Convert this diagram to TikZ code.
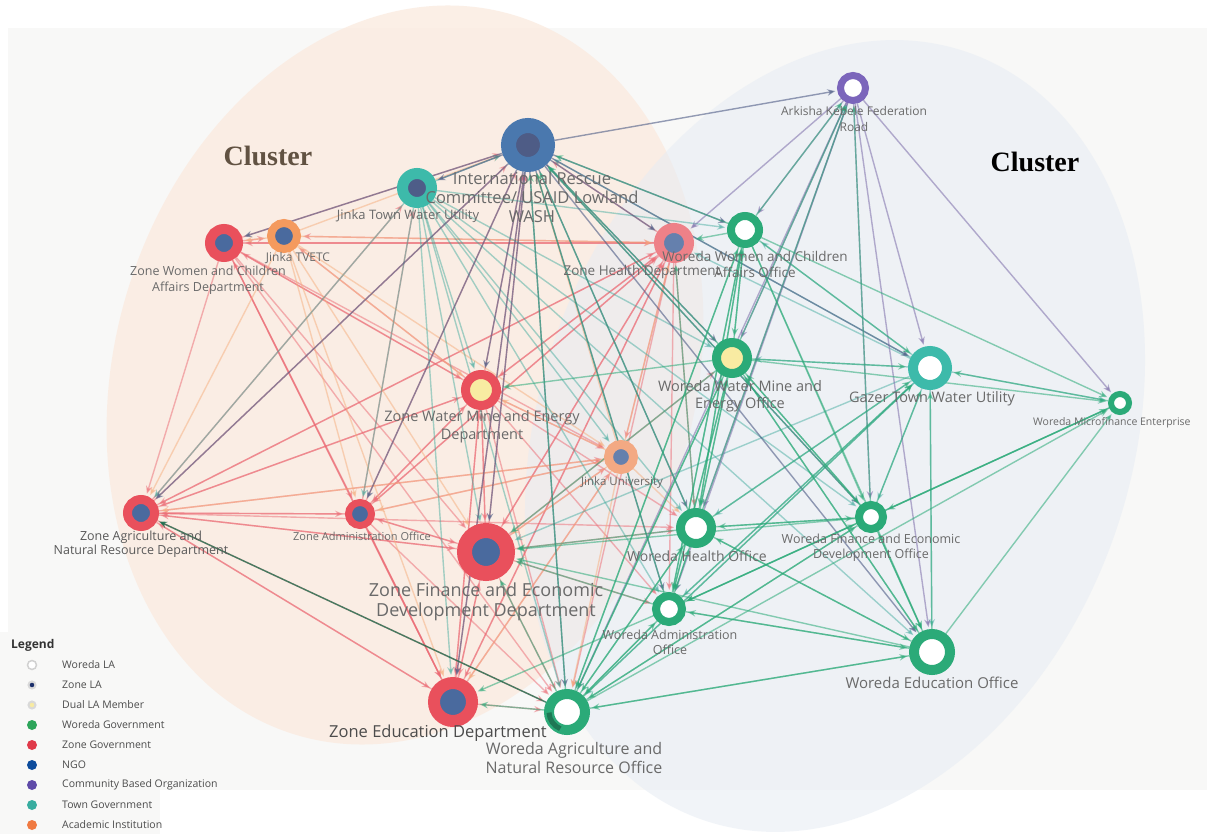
\documentclass[tikz,border=0pt]{standalone}
\usepackage{fontspec}
\setmainfont{Open Sans}
\newfontfamily\clusterfont{Liberation Serif}
\usetikzlibrary{arrows.meta,calc}
\pgfdeclarelayer{shade}
\pgfdeclarelayer{links}
\pgfsetlayers{shade,links,main}

% palette
\definecolor{zgov}{HTML}{E9505C}
\definecolor{zgovfade}{HTML}{EE8188}
\definecolor{wgov}{HTML}{2BAA78}
\definecolor{town}{HTML}{3DBAAA}
\definecolor{ngo}{HTML}{4A78AE}
\definecolor{ngoin}{HTML}{4E5C86}
\definecolor{cbo}{HTML}{7B65BB}
\definecolor{acad}{HTML}{F49A5E}
\definecolor{acadfade}{HTML}{F3A983}
\definecolor{zla}{HTML}{4A6A9E}
\definecolor{dual}{HTML}{F8EBA2}
\definecolor{paper}{HTML}{F8F8F7}
\definecolor{peach}{HTML}{FBEBE0}
\definecolor{mist}{HTML}{E6ECF4}
\definecolor{labelgray}{HTML}{6A6A6A}
\definecolor{legwgov}{HTML}{2DA55A}
\definecolor{legzgov}{HTML}{E03A4A}
\definecolor{legngo}{HTML}{0D4C9C}
\definecolor{legcbo}{HTML}{5F4BA8}
\definecolor{legtown}{HTML}{38ADA0}
\definecolor{legacad}{HTML}{F07A42}
\definecolor{legnavy}{HTML}{1A2E6A}

\tikzset{
  vtx/.style={circle, inner sep=0pt},
  lbl/.style={text=labelgray, align=center, inner sep=0pt},
  lnk/.style={line width=1.4pt, shorten >=2pt, -{Stealth[length=8pt,width=6.5pt]}},
  zline/.style={lnk, draw=zgov!85!white, draw opacity=0.5, fill opacity=0.5},
  wline/.style={lnk, draw=wgov, draw opacity=0.55, fill opacity=0.55},
  tline/.style={lnk, draw=town!90!black, draw opacity=0.45, fill opacity=0.45},
  nline/.style={lnk, draw=ngoin, draw opacity=0.6, fill opacity=0.6},
  pline/.style={lnk, draw=cbo!70!gray, draw opacity=0.55, fill opacity=0.55},
  aline/.style={lnk, draw=acad!80!white, draw opacity=0.5, fill opacity=0.5},
  legdot/.style={circle, inner sep=0pt, minimum size=10pt},
  legtxt/.style={anchor=west, inner sep=0pt, text=black!70, font=\fontsize{10.5}{12}\selectfont},
}

\begin{document}
\begin{tikzpicture}[x=1pt,y=-1pt]
\useasboundingbox (0,0) rectangle (1207,834);

% backdrop and the two cluster regions
\begin{pgfonlayer}{shade}
  \fill[white] (0,0) rectangle (1207,834);
  \fill[paper] (8,28) rectangle (1207,790);
  \fill[paper] (0,632) rectangle (160,834);
  \fill[peach, fill opacity=0.8, rotate around={-17:(405,375)}]
    (405,375) ellipse [x radius=290, y radius=376];
  \fill[mist, fill opacity=0.55, rotate around={-19:(835,436)}]
    (835,436) ellipse [x radius=296.5, y radius=406];
\end{pgfonlayer}

% organisations
\node[vtx, minimum size=25pt, line width=7pt, draw=cbo, fill=white] (ark) at (853,88) {};
\node[vtx, minimum size=39pt, line width=15pt, draw=ngo, fill=ngoin] (irc) at (528,145) {};
\node[vtx, minimum size=29pt, line width=11pt, draw=town, fill=ngoin!90!zla] (jtw) at (417,188) {};
\node[vtx, minimum size=28pt, line width=10pt, draw=zgov, fill=zla] (zwc) at (224,243) {};
\node[vtx, minimum size=26pt, line width=8pt, draw=acad, fill=zla] (tvet) at (284,236) {};
\node[vtx, minimum size=30pt, line width=10pt, draw=zgovfade, fill=zla!85!white] (zhd) at (674,243) {};
\node[vtx, minimum size=28pt, line width=8pt, draw=wgov, fill=white] (wwc) at (745,230) {};
\node[vtx, minimum size=31pt, line width=9pt, draw=wgov, fill=dual] (wwm) at (732,358) {};
\node[vtx, minimum size=34pt, line width=10pt, draw=town, fill=white] (gtw) at (930,368) {};
\node[vtx, minimum size=18pt, line width=6pt, draw=wgov, fill=white] (wmf) at (1120,403) {};
\node[vtx, minimum size=31pt, line width=9pt, draw=zgov, fill=dual] (zwm) at (481,390) {};
\node[vtx, minimum size=25pt, line width=9pt, draw=acadfade, fill=zla!85!white] (ju) at (621,457) {};
\node[vtx, minimum size=27pt, line width=9pt, draw=zgov, fill=zla] (zag) at (141,513) {};
\node[vtx, minimum size=23pt, line width=7pt, draw=zgov, fill=zla] (zad) at (360,514) {};
\node[vtx, minimum size=43pt, line width=15pt, draw=zgov, fill=zla] (zfe) at (486,552) {};
\node[vtx, minimum size=31pt, line width=9pt, draw=wgov, fill=white] (who) at (696,528) {};
\node[vtx, minimum size=24pt, line width=8pt, draw=wgov, fill=white] (wfe) at (871,517) {};
\node[vtx, minimum size=26pt, line width=8pt, draw=wgov, fill=white] (wad) at (669,609) {};
\node[vtx, minimum size=36pt, line width=10pt, draw=wgov, fill=white] (wed) at (932,652) {};
\node[vtx, minimum size=38pt, line width=12pt, draw=zgov, fill=zla] (zed) at (453,702) {};
\node[vtx, minimum size=36pt, line width=10pt, draw=wgov, fill=white] (wag) at (567,712) {};
\draw[line width=5pt, draw=wgov!70!black] ($(wag.center)+(112:18)$) coordinate (wagarc) arc[start angle=112, end angle=178, radius=18];

% ties between organisations
\begin{pgfonlayer}{links}
% zone government
\foreach \s/\t in {zwc/zad, zwc/zfe, zwc/zed, zwc/zwm, zwc/zag, zwc/zhd, zwc/wag, zwc/irc, zwc/ju, zwc/tvet,
  zhd/zag, zhd/zad, zhd/zwm, zhd/zfe, zhd/zed, zhd/irc, zhd/zwc, zhd/wag, zhd/ju, zhd/tvet, zhd/who, zhd/wad,
  zwm/zag, zwm/zad, zwm/zfe, zwm/zed, zwm/ju, zwm/zhd, zwm/wag, zwm/zwc, zwm/irc, zwm/who, zwm/wad, zwm/tvet,
  zag/zad, zag/zwm, zag/zhd, zag/zfe, zag/zed, zag/irc, zag/ju, zag/jtw, zag/who, zag/wag,
  zad/zag, zad/zfe, zad/zed, zad/zwm, zad/zhd, zad/irc, zad/jtw, zad/ju, zad/wag,
  zfe/zag, zfe/zad, zfe/zed, zfe/zwm, zfe/wag, zfe/who, zfe/zhd, zfe/irc, zfe/wad, zfe/ju, zfe/wwm,
  zed/zag, zed/zfe, zed/zwm, zed/zad, zed/wag, zed/zhd, zed/zwc, zed/irc, zed/ju}
  \draw[zline] (\s) -- (\t);
% academic institutions
\foreach \s/\t in {tvet/zwc, tvet/zhd, tvet/zwm, tvet/zed, tvet/zfe, tvet/zad, tvet/ju, tvet/irc, tvet/zag,
  ju/zwm, ju/zfe, ju/zed, ju/zad, ju/zag, ju/zhd, ju/wag, ju/who, ju/irc}
  \draw[aline] (\s) -- (\t);
% town water utilities
\foreach \s/\t in {jtw/irc, jtw/zfe, jtw/zed, jtw/wag, jtw/who, jtw/wad, jtw/zad, jtw/wwm,
  jtw/zwm, jtw/wfe, jtw/wwc, jtw/ju, jtw/zag, jtw/wed,
  gtw/wwm, gtw/who, gtw/wad, gtw/wag, gtw/wfe, gtw/wed, gtw/wmf, gtw/zfe, gtw/wwc, gtw/irc, gtw/zhd}
  \draw[tline] (\s) -- (\t);
% NGO
\foreach \s/\t in {irc/zwm, irc/zfe, irc/zed, irc/zad, irc/wag, irc/who, irc/wad, irc/wwm,
  irc/wwc, irc/ark, irc/wfe, irc/zag, irc/wed, irc/jtw, irc/zhd, irc/gtw, irc/zwc}
  \draw[nline] (\s) -- (\t);
% community based organisation
\foreach \s/\t in {ark/zhd, ark/wwc, ark/wwm, ark/who, ark/wad, ark/wag, ark/gtw, ark/wfe,
  ark/wed, ark/wmf}
  \draw[pline] (\s) -- (\t);
% woreda government
\foreach \s/\t in {wwc/irc, wwc/wwm, wwc/who, wwc/wad, wwc/wag, wwc/wfe, wwc/wed, wwc/gtw, wwc/wmf, wwc/ark, wwc/zhd,
  wwm/irc, wwm/gtw, wwm/who, wwm/wad, wwm/wag, wwm/wfe, wwm/wed, wwm/wwc, wwm/wmf, wwm/zfe, wwm/ark, wwm/zwm,
  who/wwm, who/wfe, who/wad, who/wag, who/wed, who/gtw, who/irc, who/zfe, who/wwc, who/ark, who/zhd,
  wfe/who, wfe/wad, wfe/wag, wfe/wed, wfe/wwm, wfe/gtw, wfe/wmf, wfe/irc, wfe/ark, wfe/zfe,
  wad/who, wad/wag, wad/wed, wad/wwm, wad/wfe, wad/gtw, wad/zfe, wad/irc, wad/wwc, wad/zed,
  wed/wag, wed/wad, wed/who, wed/wfe, wed/wwm, wed/gtw, wed/wmf, wed/zfe,
  wag/wad, wag/who, wag/wwm, wag/gtw, wag/wfe, wag/wed, wag/wmf, wag/zed, wag/zfe, wag/wwc, wag/irc,
  wmf/wfe, wmf/wad, wmf/gtw}
  \draw[wline] (\s) -- (\t);
\draw[lnk, draw=wgov!65!black, draw opacity=0.8] (wag) -- (zag);
\end{pgfonlayer}

% names of the organisations
\node[lbl, font=\fontsize{12}{15.5}\selectfont] (ark-l) at (854,119) {Arkisha Kebele Federation\\Road};
\node[lbl, font=\fontsize{16.5}{19}\selectfont] (irc-l) at (532,197) {International Rescue\\Committee/ USAID Lowland\\WASH};
\node[lbl, font=\fontsize{13}{15}\selectfont] (jtw-l) at (408,216) {Jinka Town Water Utility};
\node[lbl, font=\fontsize{12.5}{16}\selectfont] (zwc-l) at (208,280) {Zone Women and Children\\Affairs Department};
\node[lbl, font=\fontsize{12}{14}\selectfont] (tvet-l) at (298,258) {Jinka TVETC};
\node[lbl, font=\fontsize{13.5}{16}\selectfont] (zhd-l) at (642,272) {Zone Health Department};
\node[lbl, font=\fontsize{13.5}{16}\selectfont] (wwc-l) at (755,264) {Woreda Women and Children\\Affairs Office};
\node[lbl, font=\fontsize{14.5}{17}\selectfont] (wwm-l) at (740,396) {Woreda Water Mine and\\Energy Office};
\node[lbl, font=\fontsize{14.5}{17}\selectfont] (gtw-l) at (932,399) {Gazer Town Water Utility};
\node[lbl, font=\fontsize{10.5}{12}\selectfont, anchor=west] (wmf-l) at (1033,423) {Woreda Microfinance Enterprise};
\node[lbl, font=\fontsize{14.5}{18}\selectfont] (zwm-l) at (482,427) {Zone Water Mine and Energy\\Department};
\node[lbl, font=\fontsize{11.5}{13}\selectfont] (ju-l) at (622,483) {Jinka University};
\node[lbl, font=\fontsize{12.5}{14}\selectfont, text=black!65] (zag-l) at (141,544) {Zone Agriculture and\\Natural Resource Department};
\node[lbl, font=\fontsize{11}{13}\selectfont] (zad-l) at (362,536) {Zone Administration Office};
\node[lbl, font=\fontsize{18}{20}\selectfont] (zfe-l) at (486,602) {Zone Finance and Economic\\Development Department};
\node[lbl, font=\fontsize{14}{16}\selectfont] (who-l) at (697,556) {Woreda Health Office};
\node[lbl, font=\fontsize{12.5}{15}\selectfont] (wfe-l) at (871,548) {Woreda Finance and Economic\\Development Office};
\node[lbl, font=\fontsize{12.5}{15}\selectfont] (wad-l) at (670,642) {Woreda Administration\\Office};
\node[lbl, font=\fontsize{15}{17}\selectfont] (wed-l) at (932,683) {Woreda Education Office};
\node[lbl, font=\fontsize{16.5}{19}\selectfont, text=black!70] (zed-l) at (438,733) {Zone Education Department};
\node[lbl, font=\fontsize{16}{19}\selectfont] (wag-l) at (574,758) {Woreda Agriculture and\\Natural Resource Office};

% cluster captions
\node[font=\clusterfont\bfseries\fontsize{28}{30}\selectfont, text=black!60!brown!60!gray, inner sep=0pt] (cl-left) at (268,156) {Cluster};
\node[font=\clusterfont\bfseries\fontsize{28}{30}\selectfont, text=black, inner sep=0pt] (cl-right) at (1035,162) {Cluster};

% legend
\node[anchor=west, inner sep=0pt, text=black!80, font=\bfseries\fontsize{12}{14}\selectfont] (lg) at (11,645) {Legend};
\node[legdot, minimum size=9pt, fill=white, draw=black!18, line width=1.5pt] (ld1) at (32,665) {};
\node[legdot, minimum size=7pt, fill=legnavy, draw=black!15, line width=2pt] (ld2) at (32,685) {};
\node[legdot, minimum size=7pt, fill=dual, draw=black!15, line width=2pt] (ld3) at (32,705) {};
\node[legdot, fill=legwgov] (ld4) at (32,725) {};
\node[legdot, fill=legzgov] (ld5) at (32,745) {};
\node[legdot, fill=legngo] (ld6) at (32,765) {};
\node[legdot, fill=legcbo] (ld7) at (32,785) {};
\node[legdot, fill=legtown] (ld8) at (32,805) {};
\node[legdot, fill=legacad] (ld9) at (32,825) {};
\node[legtxt] (lt1) at (62,665) {Woreda LA};
\node[legtxt] (lt2) at (62,685) {Zone LA};
\node[legtxt] (lt3) at (62,705) {Dual LA Member};
\node[legtxt] (lt4) at (62,725) {Woreda Government};
\node[legtxt] (lt5) at (62,745) {Zone Government};
\node[legtxt] (lt6) at (62,765) {NGO};
\node[legtxt] (lt7) at (62,785) {Community Based Organization};
\node[legtxt] (lt8) at (62,805) {Town Government};
\node[legtxt] (lt9) at (62,825) {Academic Institution};
\end{tikzpicture}
\end{document}
